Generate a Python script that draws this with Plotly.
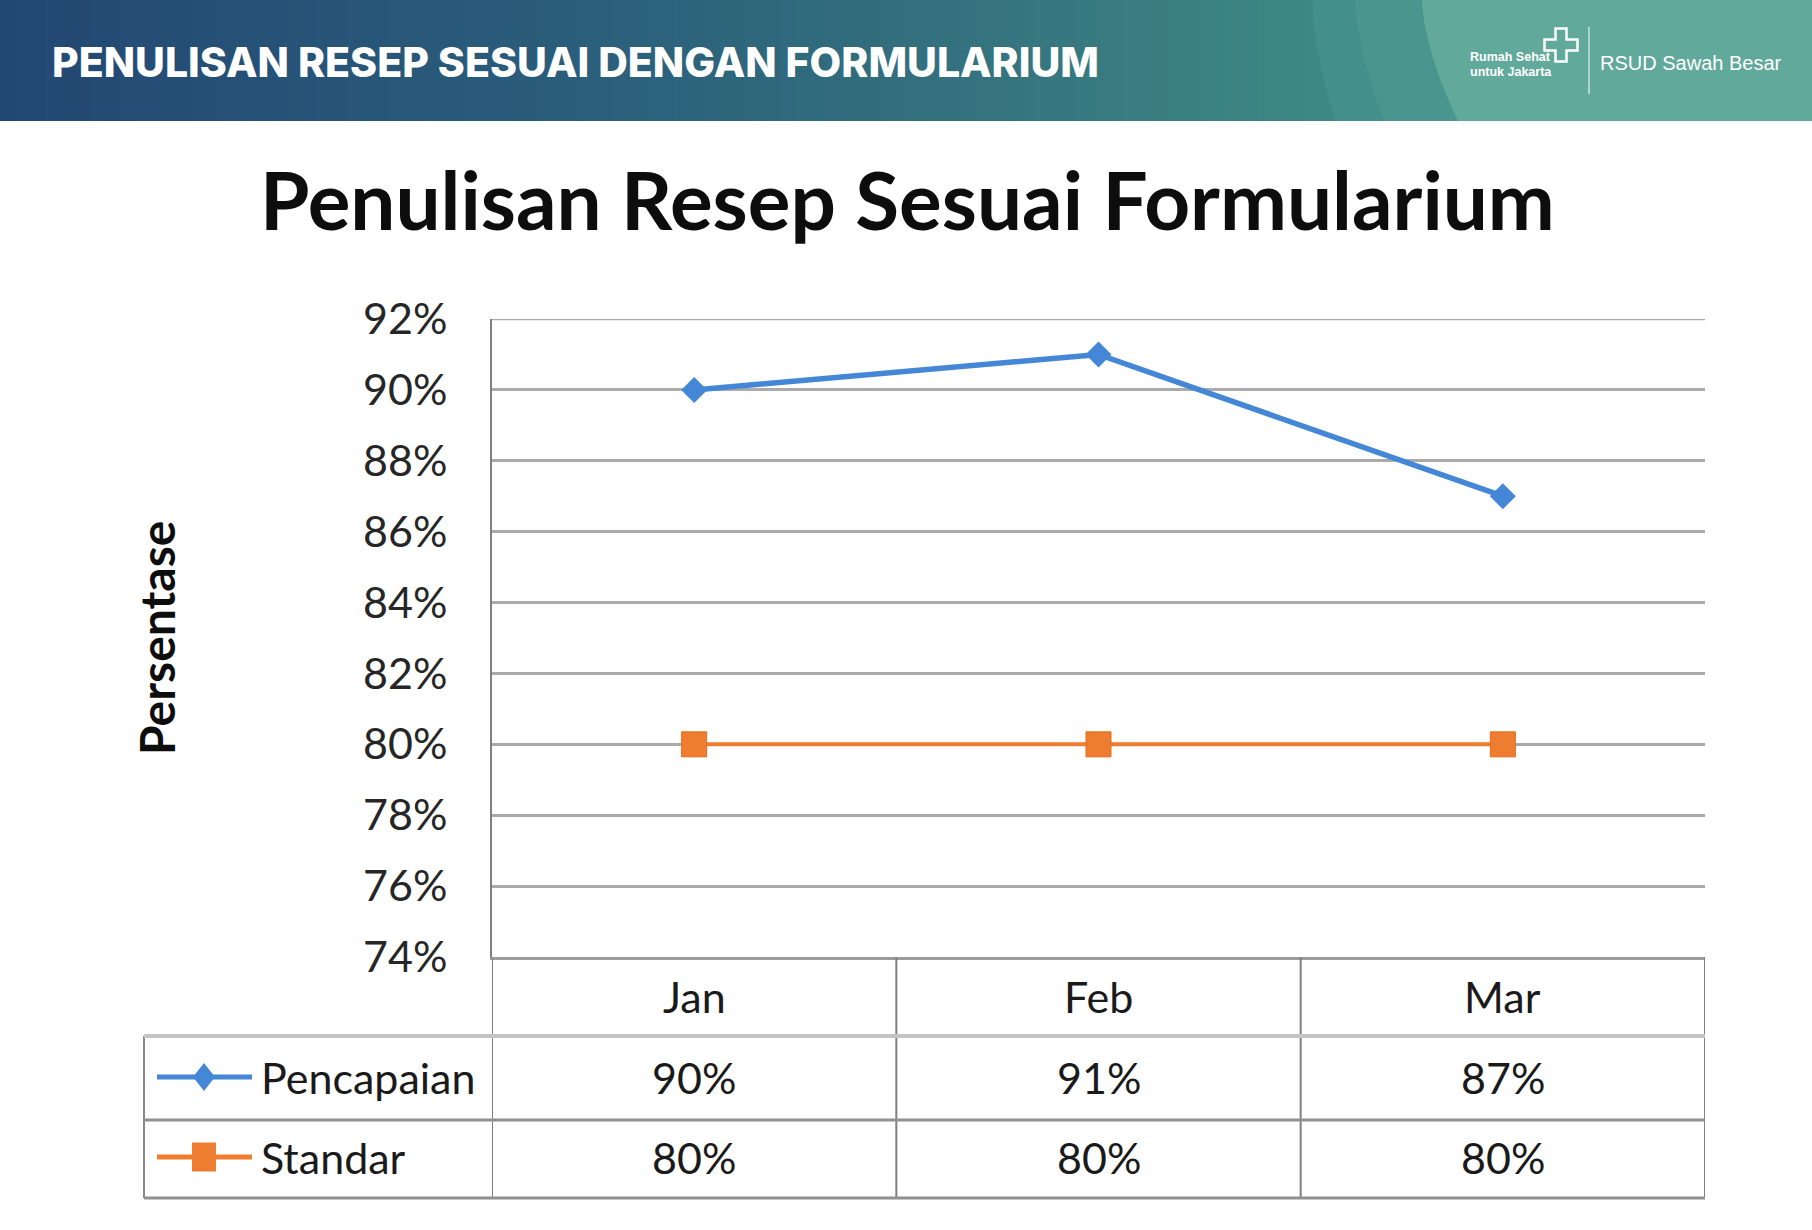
import plotly.graph_objects as go

# ---------------- data ----------------
months = ["Jan", "Feb", "Mar"]
pencapaian = [90, 91, 87]
standar = [80, 80, 80]
y_ticks = [74, 76, 78, 80, 82, 84, 86, 88, 90, 92]
series_names = ["Pencapaian", "Standar"]

chart_title = "Penulisan Resep Sesuai Formularium"
header_title = "PENULISAN RESEP SESUAI DENGAN FORMULARIUM"
y_title = "Persentase"

# ---------------- geometry (pixels) ----------------
W, H = 1812, 1230
L, R, T, B = 492, 1705, 319, 957


def px(x):
    return (x - L) / (R - L)


def py(y):
    return (B - y) / (B - T)


BLUE = "#4487d6"
ORANGE = "#ee7d31"
FONT = "Lato"

fig = go.Figure()
fig.add_trace(go.Scatter(
    x=months, y=pencapaian, name=series_names[0], mode="lines+markers",
    line=dict(color=BLUE, width=5.5),
    marker=dict(symbol="diamond", size=20, color=BLUE),
    cliponaxis=False, showlegend=False))
fig.add_trace(go.Scatter(
    x=months, y=standar, name=series_names[1], mode="lines+markers",
    line=dict(color=ORANGE, width=4),
    marker=dict(symbol="square", size=25, color=ORANGE, line=dict(color="#e46c1a", width=1)),
    cliponaxis=False, showlegend=False))

shapes = []
annotations = []


def hex2rgb(h):
    h = h.lstrip("#")
    return tuple(int(h[i:i + 2], 16) for i in (0, 2, 4))


def lerp_color(stops, x):
    for (x0, c0), (x1, c1) in zip(stops, stops[1:]):
        if x0 <= x <= x1:
            t = (x - x0) / (x1 - x0) if x1 > x0 else 0
            a, b = hex2rgb(c0), hex2rgb(c1)
            return "rgb(%d,%d,%d)" % tuple(round(a[i] + (b[i] - a[i]) * t) for i in range(3))
    return stops[-1][1]


# ---------------- header band ----------------
HB = 121
grad = [(0, "#234773"), (600, "#2b5f7b"), (1000, "#35747f"), (1350, "#3f8a84"), (1812, "#42908a")]
N = 121
sw = W / N
for i in range(N):
    x0 = i * sw
    shapes.append(dict(type="rect", xref="paper", yref="paper",
                       x0=px(x0), x1=px(x0 + sw + 1), y0=py(HB), y1=py(0),
                       fillcolor=lerp_color(grad, x0 + sw / 2), line=dict(width=0), layer="above"))


def arc_region(xtop, xbot, color):
    pts = []
    steps = 16
    for k in range(steps + 1):
        yy = HB * k / steps
        xx = xtop + (xbot - xtop) * (k / steps) ** 1.6
        pts.append((xx, yy))
    pts += [(W, HB), (W, 0)]
    path = "M " + " L ".join("%.5f,%.5f" % (px(a), py(b)) for a, b in pts) + " Z"
    shapes.append(dict(type="path", xref="paper", yref="paper", path=path,
                       fillcolor=color, line=dict(width=0), layer="above"))


arc_region(1312, 1335, "#438f89")
arc_region(1355, 1384, "#4a958d")
arc_region(1422, 1458, "#61a99a")

# logo cross (outlined plus)
cx, cy, a, b = 1561, 45, 5.5, 16.5
pl = [(cx - a, cy - b), (cx + a, cy - b), (cx + a, cy - a), (cx + b, cy - a), (cx + b, cy + a),
      (cx + a, cy + a), (cx + a, cy + b), (cx - a, cy + b), (cx - a, cy + a), (cx - b, cy + a),
      (cx - b, cy - a), (cx - a, cy - a)]
shapes.append(dict(type="path", xref="paper", yref="paper",
                   path="M " + " L ".join("%.5f,%.5f" % (px(p), py(q)) for p, q in pl) + " Z",
                   line=dict(color="white", width=2.5), fillcolor="rgba(0,0,0,0)", layer="above"))
shapes.append(dict(type="line", xref="paper", yref="paper", x0=px(1589), x1=px(1589),
                   y0=py(27), y1=py(94), line=dict(color="white", width=1), layer="above"))

annotations.append(dict(text=header_title, xref="paper", yref="paper",
                        x=px(50), y=py(62), xanchor="left", yanchor="middle", showarrow=False,
                        font=dict(family="Inter", size=41, weight=800, color="white")))
annotations.append(dict(text="<b>Rumah Sehat</b>", xref="paper", yref="paper",
                        x=px(1468), y=py(57), xanchor="left", yanchor="middle", showarrow=False,
                        font=dict(family="Liberation Sans", size=12.5, color="white")))
annotations.append(dict(text="<b>untuk Jakarta</b>", xref="paper", yref="paper",
                        x=px(1468), y=py(72), xanchor="left", yanchor="middle", showarrow=False,
                        font=dict(family="Liberation Sans", size=12.5, color="white")))
annotations.append(dict(text="RSUD Sawah Besar", xref="paper", yref="paper",
                        x=px(1598), y=py(63), xanchor="left", yanchor="middle", showarrow=False,
                        font=dict(family="Liberation Sans", size=20, color="white")))

# ---------------- chart title & axis title ----------------
annotations.append(dict(text="<b>" + chart_title + "</b>", xref="paper", yref="paper",
                        x=px(907), y=py(199), xanchor="center", yanchor="middle", showarrow=False,
                        font=dict(family=FONT, size=80, color="#0d0d0d")))
annotations.append(dict(text="<b>" + y_title + "</b>", xref="paper", yref="paper",
                        x=px(156), y=py(638), xanchor="center", yanchor="middle", showarrow=False,
                        textangle=-90, font=dict(family=FONT, size=48, color="#0d0d0d")))

# ---------------- data table ----------------
ROW_HEAD, ROW1, ROW2 = 997, 1077, 1157
SEP1, SEP2, BOT = 1036, 1120, 1198
LEG_L = 144

# top gridline at the range edge
shapes.append(dict(type="line", xref="x", yref="y", x0=-0.5, x1=2.5, y0=y_ticks[-1], y1=y_ticks[-1],
                   line=dict(color="#ababab", width=2.5), layer="below"))

# vertical lines
for xv in [-0.5, 0.5, 1.5, 2.5]:
    shapes.append(dict(type="line", xref="x", yref="paper", x0=xv, x1=xv,
                       y0=py(B), y1=py(BOT),
                       line=dict(color="#7f7f7f", width=2), layer="above"))
shapes.append(dict(type="line", xref="paper", yref="paper", x0=px(LEG_L), x1=px(LEG_L),
                   y0=py(SEP1), y1=py(BOT), line=dict(color="#8a8a8a", width=2)))
# horizontal lines
shapes.append(dict(type="line", xref="paper", yref="paper", x0=px(LEG_L), x1=1, y0=py(SEP1), y1=py(SEP1),
                   line=dict(color="#c4c4c4", width=4)))
shapes.append(dict(type="line", xref="paper", yref="paper", x0=px(LEG_L), x1=1, y0=py(SEP2), y1=py(SEP2),
                   line=dict(color="#909090", width=3)))
shapes.append(dict(type="line", xref="paper", yref="paper", x0=px(LEG_L), x1=1, y0=py(BOT), y1=py(BOT),
                   line=dict(color="#909090", width=3)))

# legend swatches
shapes.append(dict(type="line", xref="paper", yref="paper", x0=px(157), x1=px(252), y0=py(ROW1), y1=py(ROW1),
                   line=dict(color=BLUE, width=5)))
dx, dy = 11, 14
shapes.append(dict(type="path", xref="paper", yref="paper",
                   path="M %f,%f L %f,%f L %f,%f L %f,%f Z" % (
                       px(204 - dx), py(ROW1), px(204), py(ROW1 - dy), px(204 + dx), py(ROW1), px(204), py(ROW1 + dy)),
                   fillcolor=BLUE, line=dict(width=0)))
shapes.append(dict(type="line", xref="paper", yref="paper", x0=px(157), x1=px(252), y0=py(ROW2), y1=py(ROW2),
                   line=dict(color=ORANGE, width=5)))
shapes.append(dict(type="rect", xref="paper", yref="paper", x0=px(192), x1=px(216),
                   y0=py(ROW2 + 14.5), y1=py(ROW2 - 14.5), fillcolor=ORANGE, line=dict(width=0)))

TXT = dict(family=FONT, size=43, color="#1a1a1a")
annotations.append(dict(text=series_names[0], xref="paper", yref="paper", x=px(259), y=py(ROW1),
                        xanchor="left", yanchor="middle", showarrow=False, font=TXT))
annotations.append(dict(text=series_names[1], xref="paper", yref="paper", x=px(259), y=py(ROW2),
                        xanchor="left", yanchor="middle", showarrow=False, font=TXT))
for m, v1, v2 in zip(months, pencapaian, standar):
    annotations.append(dict(text=m, xref="x", yref="paper", x=m, y=py(ROW_HEAD),
                            xanchor="center", yanchor="middle", showarrow=False, font=TXT))
    annotations.append(dict(text="%d%%" % v1, xref="x", yref="paper", x=m, y=py(ROW1),
                            xanchor="center", yanchor="middle", showarrow=False, font=TXT))
    annotations.append(dict(text="%d%%" % v2, xref="x", yref="paper", x=m, y=py(ROW2),
                            xanchor="center", yanchor="middle", showarrow=False, font=TXT))

fig.update_layout(
    width=W, height=H,
    margin=dict(l=L, r=W - R, t=T, b=H - B, pad=0),
    paper_bgcolor="white", plot_bgcolor="white",
    showlegend=False,
    shapes=shapes, annotations=annotations,
    xaxis=dict(type="category", range=[-0.5, 2.5], showticklabels=False, ticks="",
               showgrid=False, zeroline=False, showline=True, linecolor="#9c9c9c", linewidth=3),
    yaxis=dict(range=[74, 92], tickvals=y_ticks, ticktext=["%d%%" % v for v in y_ticks],
               showgrid=True, gridcolor="#ababab", gridwidth=2.5, zeroline=False,
               showline=True, linecolor="#7f7f7f", linewidth=2, ticks="",
               ticklabelstandoff=34,
               tickfont=dict(family=FONT, size=43, color="#262626")),
)

fig.write_html("out.html")
